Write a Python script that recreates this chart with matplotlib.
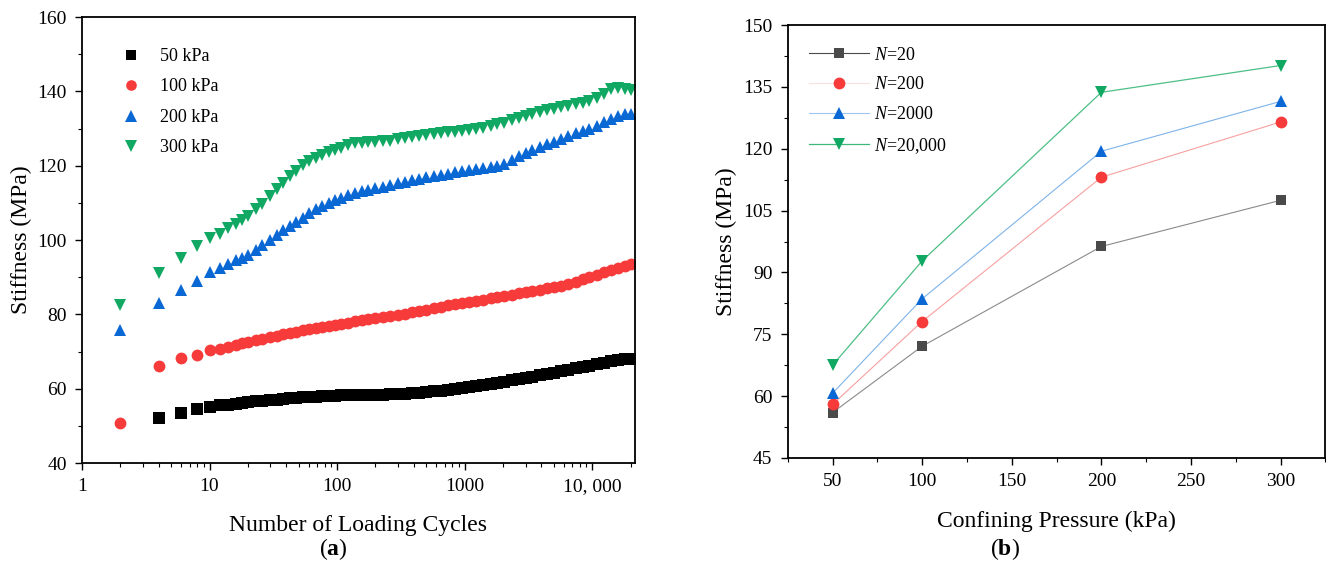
import numpy as np
import matplotlib
matplotlib.use("Agg")
from matplotlib import pyplot as plt
from matplotlib.ticker import FixedLocator, MultipleLocator, LogLocator, NullFormatter

plt.rcParams['font.family'] = ['Liberation Serif', 'DejaVu Serif']
plt.rcParams['mathtext.fontset'] = 'custom'
plt.rcParams['mathtext.rm'] = 'Liberation Serif'
plt.rcParams['mathtext.it'] = 'Liberation Serif:italic'
plt.rcParams['mathtext.bf'] = 'Liberation Serif:bold'

# (a) stiffness vs number of loading cycles
cycles = [2, 4, 6, 8, 10, 12, 14, 16, 18, 20, 23, 26, 30, 34, 38, 43, 48, 54, 60, 68,
          76, 86, 96, 108, 122, 138, 156, 176, 200, 230, 260, 300, 340, 390, 440, 500,
          570, 650, 740, 840, 950, 1080, 1230, 1400, 1600, 1800, 2050, 2350, 2650, 3000,
          3400, 3900, 4400, 5000, 5700, 6500, 7400, 8400, 9500, 10800, 12300, 14000,
          16000, 18000, 20000]

k50 = [np.nan, 52.0, 53.6, 54.6, 55.2, 55.5, 55.7, 56.0, 56.2, 56.4, 56.6, 56.8, 57.0,
       57.1, 57.3, 57.4, 57.6, 57.7, 57.8, 57.9, 58.0, 58.0, 58.1, 58.2, 58.2, 58.3,
       58.3, 58.4, 58.4, 58.4, 58.5, 58.6, 58.7, 58.8, 58.9, 59.1, 59.3, 59.5, 59.7,
       59.9, 60.2, 60.4, 60.7, 61.0, 61.3, 61.6, 61.9, 62.3, 62.6, 62.9, 63.2, 63.6,
       64.0, 64.3, 64.7, 65.1, 65.5, 65.9, 66.2, 66.6, 67.0, 67.4, 67.8, 68.0, 68.1]

k100 = [50.7, 66.0, 68.2, 69.1, 70.3, 70.8, 71.3, 71.8, 72.2, 72.6, 73.1, 73.5, 73.9,
        74.3, 74.6, 75.0, 75.3, 75.7, 76.0, 76.3, 76.6, 76.9, 77.2, 77.5, 77.8, 78.1,
        78.4, 78.7, 79.0, 79.2, 79.5, 79.8, 80.2, 80.6, 81.0, 81.3, 81.7, 82.1, 82.5,
        82.8, 83.1, 83.4, 83.7, 84.0, 84.3, 84.6, 84.9, 85.3, 85.7, 86.0, 86.3, 86.7,
        87.0, 87.3, 87.7, 88.2, 88.8, 89.5, 90.1, 90.7, 91.4, 92.0, 92.6, 93.1, 93.5]

k200 = [75.8, 83.0, 86.6, 88.9, 91.3, 92.5, 93.6, 94.6, 95.3, 96.0, 97.3, 98.6, 100.1,
        101.5, 102.6, 103.8, 104.8, 106.0, 107.2, 108.4, 109.2, 110.0, 110.7, 111.4,
        112.1, 112.7, 113.2, 113.6, 114.0, 114.4, 114.9, 115.3, 115.7, 116.1, 116.5,
        116.9, 117.3, 117.6, 117.9, 118.2, 118.5, 118.8, 119.1, 119.4, 119.7, 120.0,
        120.5, 121.5, 122.6, 123.5, 124.3, 125.1, 125.8, 126.5, 127.2, 128.0, 128.7,
        129.4, 130.0, 130.8, 131.8, 132.6, 133.3, 134.0, 134.0]

k300 = [82.6, 91.1, 95.2, 98.3, 100.6, 101.7, 103.3, 104.4, 105.5, 106.6, 108.3, 109.8,
        112.0, 113.8, 115.5, 117.2, 118.7, 120.2, 121.2, 122.2, 123.0, 123.7, 124.3,
        124.9, 125.5, 126.0, 126.2, 126.3, 126.3, 126.6, 126.8, 127.1, 127.4, 127.8,
        128.1, 128.4, 128.6, 128.8, 129.0, 129.2, 129.4, 129.6, 129.9, 130.3, 130.8,
        131.2, 131.6, 132.2, 132.8, 133.4, 134.0, 134.6, 135.0, 135.4, 135.8, 136.2,
        136.6, 136.9, 137.4, 138.2, 139.4, 140.6, 140.8, 140.6, 140.4]

# (b) stiffness vs confining pressure
pressure = [50, 100, 200, 300]
n20 = [56.0, 72.1, 96.3, 107.5]
n200 = [58.0, 78.1, 113.1, 126.5]
n2000 = [60.7, 83.6, 119.4, 131.5]
n20000 = [67.5, 92.8, 133.7, 140.2]

black = '#000000'
red = '#f73b3b'
blue = '#0a68d4'
green = '#10a862'
grey = '#4a4a4a'

fig = plt.figure(figsize=(13.28, 5.71), dpi=100)
ax1 = fig.add_axes([0.0617, 0.189, 0.4162, 0.781])
ax2 = fig.add_axes([0.5932, 0.198, 0.4048, 0.758])

ms = 8.5
ax1.plot(cycles, k50, 's', color=black, ms=ms - 0.5, mew=0, label='50 kPa')
ax1.plot(cycles, k100, 'o', color=red, ms=ms, mew=0, label='100 kPa')
ax1.plot(cycles, k200, '^', color=blue, ms=ms + 0.7, mew=0, label='200 kPa')
ax1.plot(cycles, k300, 'v', color=green, ms=ms + 0.7, mew=0, label='300 kPa')

ax1.set_xscale('log')
ax1.set_xlim(1, 21500)
ax1.set_ylim(40, 160)
ax1.xaxis.set_major_locator(FixedLocator([1, 10, 100, 1000, 10000]))
ax1.set_xticklabels(['1', '10', '100', '1000', '10, 000'])
ax1.xaxis.set_minor_locator(LogLocator(base=10, subs=np.arange(2, 10), numticks=20))
ax1.xaxis.set_minor_formatter(NullFormatter())
ax1.yaxis.set_major_locator(MultipleLocator(20))
ax1.yaxis.set_minor_locator(MultipleLocator(10))
ax1.set_xlabel('Number of Loading Cycles', fontsize=17, labelpad=14)
ax1.set_ylabel('Stiffness (MPa)', fontsize=17, labelpad=4)
ax1.legend(loc='upper left', frameon=False, fontsize=13, handletextpad=0.6,
           labelspacing=0.75, borderaxespad=1.3, markerscale=0.9)

ax2.plot(pressure, n20, color='#8a8a8a', lw=0.8)
ax2.plot(pressure, n200, color='#f7a0a0', lw=0.8)
ax2.plot(pressure, n2000, color='#7fb3e8', lw=0.8)
ax2.plot(pressure, n20000, color='#4dbf86', lw=0.9)
ax2.plot(pressure, n20, 's', color=grey, ms=7.5, mew=0)
ax2.plot(pressure, n200, 'o', color=red, ms=8.5, mew=0)
ax2.plot(pressure, n2000, '^', color=blue, ms=9, mew=0)
ax2.plot(pressure, n20000, 'v', color=green, ms=9, mew=0)

lh1, = ax2.plot([], [], '-s', color=grey, mfc=grey, mew=0, ms=7.5, lw=0.8)
lh2, = ax2.plot([], [], '-o', color='#fbe0e0', mfc=red, mew=0, ms=8.5, lw=0.8)
lh3, = ax2.plot([], [], '-^', color='#9cc6ee', mfc=blue, mew=0, ms=9, lw=0.8)
lh4, = ax2.plot([], [], '-v', color='#3db77a', mfc=green, mew=0, ms=9, lw=0.9)
ax2.legend([lh1, lh2, lh3, lh4],
           ['$N$=20', '$N$=200', '$N$=2000', '$N$=20,000'],
           loc='upper left', frameon=False, fontsize=13, handlelength=3.3,
           handletextpad=0.3, labelspacing=0.7, borderaxespad=0.8)

ax2.set_xlim(25, 325)
ax2.set_ylim(45, 150)
ax2.xaxis.set_major_locator(FixedLocator([50, 100, 150, 200, 250, 300]))
ax2.xaxis.set_minor_locator(MultipleLocator(25))
ax2.yaxis.set_major_locator(MultipleLocator(15))
ax2.yaxis.set_minor_locator(MultipleLocator(7.5))
ax2.set_xlabel('Confining Pressure (kPa)', fontsize=17, labelpad=15)
ax2.set_ylabel('Stiffness (MPa)', fontsize=17, labelpad=4)

for ax in (ax1, ax2):
    ax.tick_params(which='major', direction='out', length=5, width=1.0,
                   labelsize=14, top=False, right=False, pad=6)
    ax.tick_params(which='minor', direction='out', length=3, width=0.8,
                   top=False, right=False)
    for s in ax.spines.values():
        s.set_linewidth(1.3)

fig.text(0.2508, 0.038, '($\\mathbf{a}$)', fontsize=17, ha='center', va='center')
fig.text(0.7568, 0.038, '($\\mathbf{b}$)', fontsize=17, ha='center', va='center')

fig.savefig('out.png', dpi=100)
